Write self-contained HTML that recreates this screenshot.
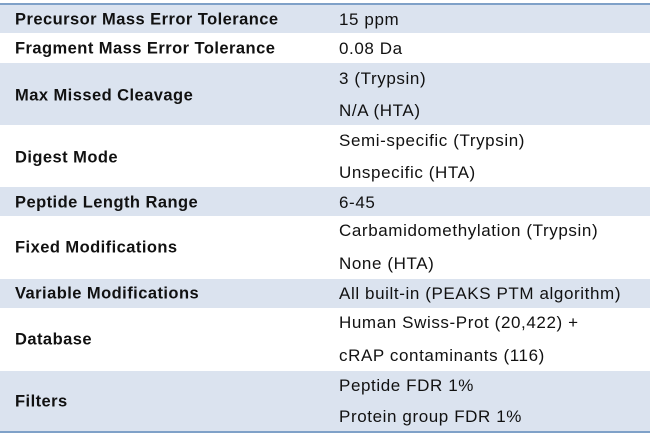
<!DOCTYPE html>
<html><head><style>
body{margin:0;width:650px;height:439px;background:#fff;position:relative;overflow:hidden;font-family:"Liberation Sans",sans-serif;color:#111;}
.r{position:absolute;left:0;width:650px;}
.s{background:#dbe3ef;}
.top{position:absolute;left:0;width:650px;top:3px;height:2px;background:#7fa1c8;}
.bot{position:absolute;left:0;width:650px;top:431px;height:2px;background:#7fa1c8;}
.l{position:absolute;left:15px;font-weight:bold;font-size:16.5px;letter-spacing:0.45px;white-space:nowrap;transform:translateY(-50%);}
.v{position:absolute;left:339px;font-size:17px;letter-spacing:0.6px;white-space:nowrap;transform:translateY(-50%);}
</style></head><body>
<div class="r s" style="top:5px;height:28px"></div>
<div class="r s" style="top:63px;height:62px"></div>
<div class="r s" style="top:187px;height:29px"></div>
<div class="r s" style="top:279px;height:29px"></div>
<div class="r s" style="top:371px;height:61px"></div>
<div class="top"></div><div class="bot"></div>

<div class="l" style="top:20px">Precursor Mass Error Tolerance</div><div class="v" style="top:20px">15 ppm</div>
<div class="l" style="top:49px">Fragment Mass Error Tolerance</div><div class="v" style="top:49px">0.08 Da</div>
<div class="l" style="top:96px">Max Missed Cleavage</div><div class="v" style="top:79px">3 (Trypsin)</div><div class="v" style="top:111px">N/A (HTA)</div>
<div class="l" style="top:158px">Digest Mode</div><div class="v" style="top:141px">Semi-specific (Trypsin)</div><div class="v" style="top:173px">Unspecific (HTA)</div>
<div class="l" style="top:203px">Peptide Length Range</div><div class="v" style="top:203px">6-45</div>
<div class="l" style="top:248px">Fixed Modifications</div><div class="v" style="top:231px">Carbamidomethylation (Trypsin)</div><div class="v" style="top:264px">None (HTA)</div>
<div class="l" style="top:294px">Variable Modifications</div><div class="v" style="top:294px">All built-in (PEAKS PTM algorithm)</div>
<div class="l" style="top:340px">Database</div><div class="v" style="top:323px">Human Swiss-Prot (20,422) +</div><div class="v" style="top:356px">cRAP contaminants (116)</div>
<div class="l" style="top:402px">Filters</div><div class="v" style="top:386px">Peptide FDR 1%</div><div class="v" style="top:417px">Protein group FDR 1%</div>
</body></html>
